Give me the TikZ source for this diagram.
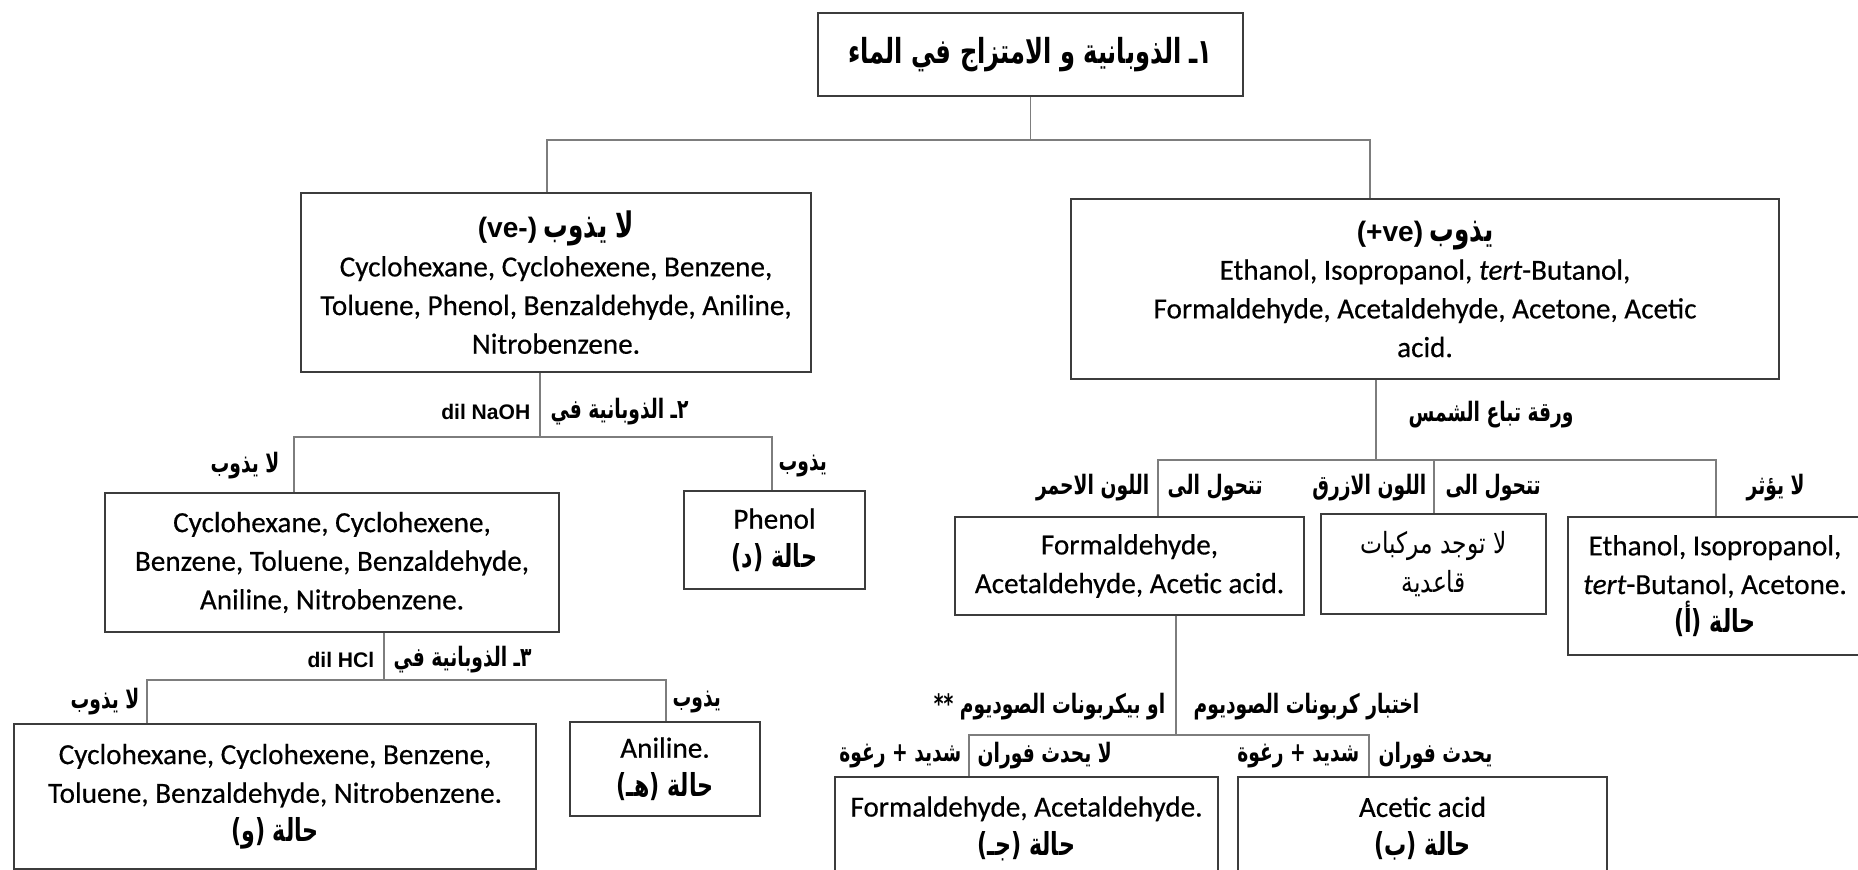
\documentclass[tikz,border=0pt]{standalone}
\usepackage{fontspec}
\setmainfont{Carlito}[FakeBold=0.4]
\newfontfamily\arfont[Script=Arabic,FakeStretch=0.7]{DejaVu Sans}
\newfontfamily\arthin[Script=Arabic,FakeStretch=0.8]{DejaVu Sans}
\newfontfamily\labfont{Liberation Sans}
\TeXXeTstate=1
\newcommand{\arb}[1]{{\arfont\bfseries\beginR #1\endR}}
\newcommand{\arr}[1]{{\arthin\beginR #1\endR}}
\definecolor{linegray}{RGB}{125,125,125}
\definecolor{boxgray}{RGB}{60,60,60}

\begin{document}
\begin{tikzpicture}[box/.style={draw=boxgray, line width=0.55pt, inner sep=0pt, align=center, font=\fontsize{8.3}{11}\selectfont},
  conn/.style={draw=linegray, line width=0.4pt},
  lab/.style={inner sep=0pt, font=\fontsize{7.6}{9}\selectfont}]
\useasboundingbox (0,0) rectangle (18.58,-8.70);
\node[box, minimum width=4.25cm, minimum height=0.83cm](title) at(10.305,-0.545){\fontsize{9.8}{12}\selectfont\arb{١ـ الذوبانية و الامتزاج في الماء}};
\node[box, minimum width=5.10cm, minimum height=1.79cm](neg) at(5.56,-2.825){{\fontsize{8}{11}\selectfont\labfont\bfseries (ve-)} {\fontsize{10}{11}\selectfont\arb{لا يذوب}}\\Cyclohexane, Cyclohexene, Benzene,\\Toluene, Phenol, Benzaldehyde, Aniline,\\Nitrobenzene.};
\node[box, minimum width=7.08cm, minimum height=1.80cm](pos) at(14.25,-2.89){{\fontsize{8}{11}\selectfont\labfont\bfseries (+ve)} {\fontsize{10}{11}\selectfont\arb{يذوب}}\\Ethanol, Isopropanol, \textit{tert}-Butanol,\\Formaldehyde, Acetaldehyde, Acetone, Acetic\\acid.};
\coordinate (s1L) at (5.47,-1.40);
\coordinate (s1R) at (13.70,-1.40);
\draw[conn] (title.south) -- (title.south |- s1L);
\draw[conn] (neg.north -| s1L) -- (s1L) -- (s1R) -- (pos.north -| s1R);

\node[box, minimum width=4.54cm, minimum height=1.39cm](sol2) at(3.32,-5.625){Cyclohexane, Cyclohexene,\\Benzene, Toluene,  Benzaldehyde,\\Aniline, Nitrobenzene.};
\node[box, minimum width=1.81cm, minimum height=0.98cm](phenol) at(7.745,-5.40){Phenol\\\arb{\fontsize{9}{11}\selectfont حالة (د)}};
\coordinate (s2) at (5.40,-4.37);
\coordinate (s2L) at (2.94,-4.37);
\coordinate (s2R) at (7.72,-4.37);
\draw[conn] (neg.south -| s2) -- (s2);
\draw[conn] (sol2.north -| s2L) -- (s2L) -- (s2R) -- (phenol.north -| s2R);
\node[lab, anchor=east](naoh) at(5.31,-4.12){\fontsize{6}{7}\selectfont\labfont\bfseries dil NaOH};
\node[lab, anchor=west](t2) at(5.50,-4.12){\arb{٢ـ الذوبانية في}};
\node[lab, anchor=east](no2) at(2.80,-4.66){\arb{لا يذوب}};
\node[lab, anchor=west](yes2) at(7.78,-4.66){\arb{يذوب}};

\node[box, minimum width=5.22cm, minimum height=1.45cm](sol3) at(2.75,-7.965){Cyclohexane, Cyclohexene, Benzene,\\Toluene, Benzaldehyde, Nitrobenzene.\\\arb{\fontsize{9}{11}\selectfont حالة (و)}};
\node[box, minimum width=1.90cm, minimum height=0.94cm](aniline) at(6.65,-7.69){Aniline.\\\arb{\fontsize{9}{11}\selectfont حالة (هـ)}};
\coordinate (s3) at (3.84,-6.80);
\coordinate (s3L) at (1.47,-6.80);
\coordinate (s3R) at (6.66,-6.80);
\draw[conn] (sol2.south -| s3) -- (s3);
\draw[conn] (sol3.north -| s3L) -- (s3L) -- (s3R) -- (aniline.north -| s3R);
\node[lab, anchor=east](hcl) at(3.75,-6.60){\fontsize{6}{7}\selectfont\labfont\bfseries dil HCl};
\node[lab, anchor=west](t3) at(3.93,-6.60){\arb{٣ـ الذوبانية في}};
\node[lab, anchor=east](no3) at(1.40,-7.02){\arb{لا يذوب}};
\node[lab, anchor=west](yes3) at(6.72,-7.02){\arb{يذوب}};

\node[box, minimum width=3.49cm, minimum height=0.98cm](red) at(11.295,-5.66){Formaldehyde,\\Acetaldehyde, Acetic acid.};
\node[box, minimum width=2.25cm, minimum height=1.00cm](blue) at(14.335,-5.64){\arr{لا توجد مركبات}\\\arr{قاعدية}};
\node[box, minimum width=2.94cm, minimum height=1.38cm](eth) at(17.15,-5.86){Ethanol, Isopropanol,\\\textit{tert}-Butanol,  Acetone.\\\arb{\fontsize{9}{11}\selectfont حالة (أ)}};
\coordinate (s4) at (13.76,-4.60);
\coordinate (s4L) at (11.58,-4.60);
\coordinate (s4M) at (14.34,-4.60);
\coordinate (s4R) at (17.16,-4.60);
\draw[conn] (pos.south -| s4) -- (s4);
\draw[conn] (red.north -| s4L) -- (s4L) -- (s4R) -- (eth.north -| s4R);
\draw[conn] (s4M) -- (blue.north -| s4M);
\node[lab, anchor=west](litmus) at(14.08,-4.15){\arb{ورقة تباع الشمس}};
\node[lab, anchor=east](redc) at(11.50,-4.88){\arb{اللون الاحمر}};
\node[lab, anchor=west](turn1) at(11.67,-4.88){\arb{تتحول الى}};
\node[lab, anchor=east](bluec) at(14.27,-4.88){\arb{اللون الازرق}};
\node[lab, anchor=west](turn2) at(14.45,-4.88){\arb{تتحول الى}};
\node[lab, anchor=west](noeff) at(17.46,-4.88){\arb{لا يؤثر}};

\node[box, minimum width=3.83cm, minimum height=1.03cm](ald) at(10.265,-8.285){Formaldehyde, Acetaldehyde.\\\arb{\fontsize{9}{11}\selectfont حالة (جـ)}};
\node[box, minimum width=3.69cm, minimum height=1.03cm](acid) at(14.225,-8.285){Acetic acid\\\arb{\fontsize{9}{11}\selectfont حالة (ب)}};
\coordinate (s5) at (11.76,-7.35);
\coordinate (s5L) at (9.69,-7.35);
\coordinate (s5R) at (13.69,-7.35);
\draw[conn] (red.south -| s5) -- (s5);
\draw[conn] (ald.north -| s5L) -- (s5L) -- (s5R) -- (acid.north -| s5R);
\node[lab, anchor=east](bicarb) at(11.66,-7.07){\arb{او بيكربونات الصوديوم **}};
\node[lab, anchor=west](carb) at(11.93,-7.07){\arb{اختبار كربونات الصوديوم}};
\node[lab, anchor=east](foam1) at(9.62,-7.56){\arb{شديد + رغوة}};
\node[lab, anchor=west](nofizz) at(9.77,-7.56){\arb{لا يحدث فوران}};
\node[lab, anchor=east](foam2) at(13.60,-7.56){\arb{شديد + رغوة}};
\node[lab, anchor=west](fizz) at(13.78,-7.56){\arb{يحدث فوران}};
\end{tikzpicture}
\end{document}
